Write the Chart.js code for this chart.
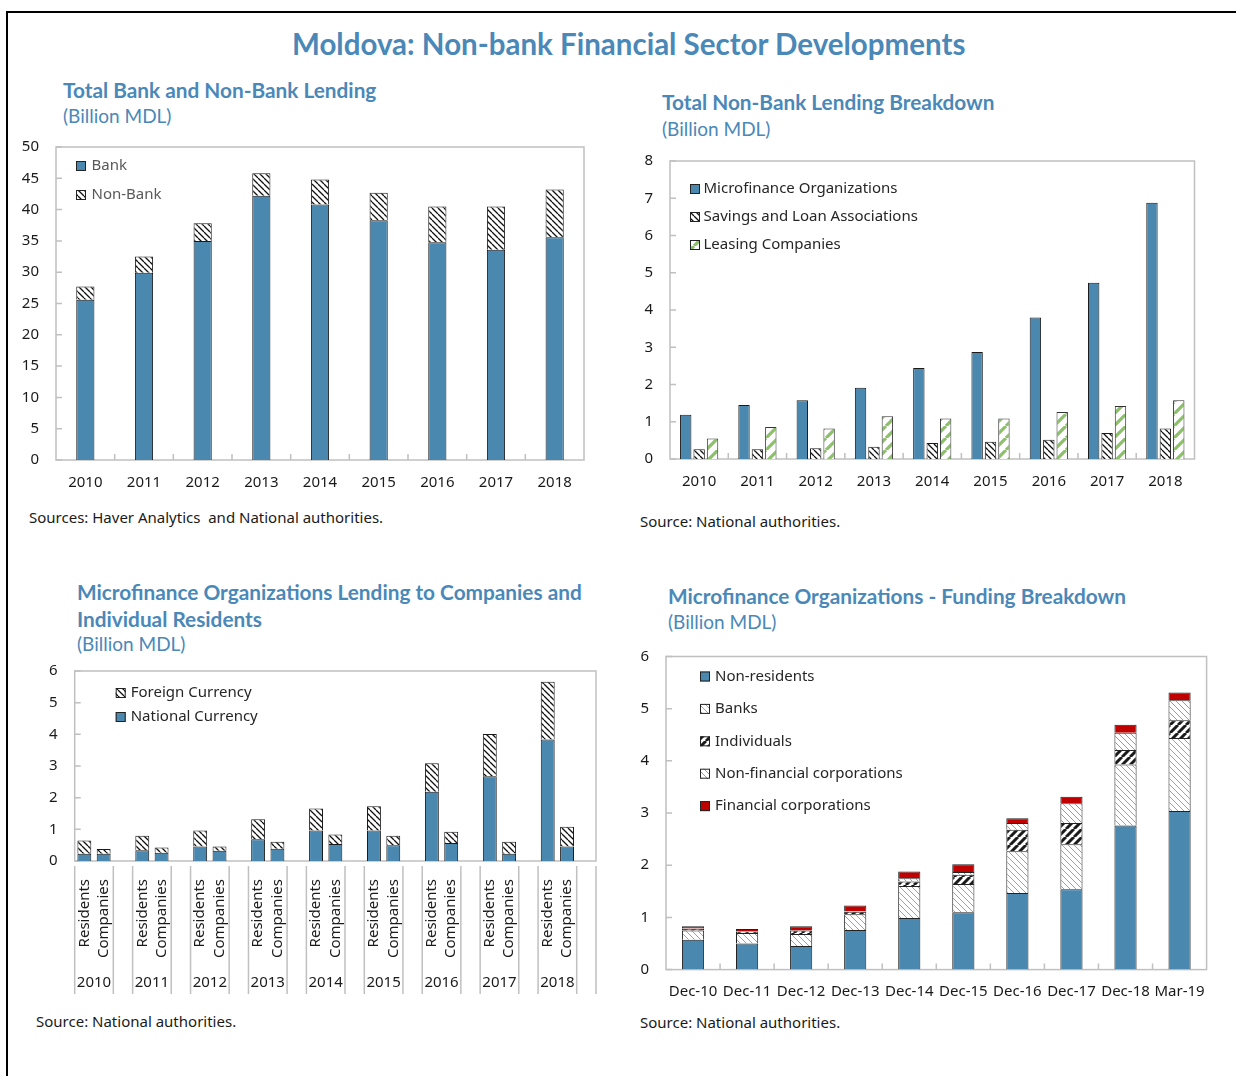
<!DOCTYPE html>
<html>
<head>
<meta charset="utf-8">
<script src="https://cdn.jsdelivr.net/npm/chart.js@4.4.0/dist/chart.umd.min.js"></script>
<style>
  html, body { margin: 0; padding: 0; background: #fff; }
  body { width: 1236px; height: 1076px; position: relative; overflow: hidden; }
  .frame { position: absolute; left: 6px; top: 11px; width: 1300px; height: 1200px; border-top: 2px solid #000; border-left: 2px solid #000; }
  .t { position: absolute; white-space: nowrap; color: #4a88b8; font-family: Lato, sans-serif; line-height: 1.2; }
  .main { font-size: 29.5px; font-weight: bold; }
  .head { font-size: 20.8px; font-weight: bold; }
  .unit { font-size: 19px; }
  .src { position: absolute; white-space: nowrap; font-family: "Noto Sans", sans-serif; font-size: 15px; line-height: 1.2; color: #1a1a1a; }
  canvas { position: absolute; }
</style>
</head>
<body>
<div class="frame"></div>

<div class="t main" style="left:292px;top:26px">Moldova: Non-bank Financial Sector Developments</div>

<div class="t head" style="left:63px;top:77.5px">Total Bank and Non-Bank Lending</div>
<div class="t unit" style="left:63px;top:105px">(Billion MDL)</div>
<div class="src" style="left:29px;top:508px">Sources: Haver Analytics&nbsp; and National authorities.</div>

<div class="t head" style="left:662px;top:90px">Total Non-Bank Lending Breakdown</div>
<div class="t unit" style="left:662px;top:118px">(Billion MDL)</div>
<div class="src" style="left:640px;top:512px">Source: National authorities.</div>

<div class="t head" style="left:77px;top:580px">Microfinance Organizations Lending to Companies and</div>
<div class="t head" style="left:77px;top:607px">Individual Residents</div>
<div class="t unit" style="left:77px;top:633px">(Billion MDL)</div>
<div class="src" style="left:36px;top:1012px">Source: National authorities.</div>

<div class="t head" style="left:668px;top:583.5px">Microfinance Organizations - Funding Breakdown</div>
<div class="t unit" style="left:668px;top:611px">(Billion MDL)</div>
<div class="src" style="left:640px;top:1013px">Source: National authorities.</div>

<canvas id="c1" width="600" height="380" style="left:0px;top:130px"></canvas>
<canvas id="c2" width="620" height="360" style="left:610px;top:150px"></canvas>
<canvas id="c3" width="600" height="350" style="left:10px;top:660px"></canvas>
<canvas id="c4" width="620" height="365" style="left:610px;top:645px"></canvas>

<script>
// ---- data ----
const years = ["2010", "2011", "2012", "2013", "2014", "2015", "2016", "2017", "2018"];

// total bank and non-bank lending
const bankLending = [25.6, 29.9, 35.0, 42.2, 40.8, 38.3, 34.8, 33.6, 35.6];
const nonBankLending = [2.1, 2.6, 2.8, 3.6, 4.0, 4.4, 5.7, 6.9, 7.6];

// non-bank lending breakdown
const microfinance = [1.19, 1.45, 1.58, 1.91, 2.44, 2.87, 3.8, 4.73, 6.88];
const savingsLoan = [0.26, 0.26, 0.29, 0.33, 0.43, 0.46, 0.52, 0.7, 0.82];
const leasing = [0.55, 0.86, 0.82, 1.15, 1.09, 1.09, 1.26, 1.42, 1.58];

// microfinance lending to residents / companies
const residentsNational = [0.23, 0.34, 0.46, 0.69, 0.96, 0.96, 2.19, 2.68, 3.84];
const residentsForeign = [0.42, 0.46, 0.5, 0.63, 0.7, 0.77, 0.9, 1.33, 1.82];
const companiesNational = [0.23, 0.26, 0.32, 0.39, 0.54, 0.5, 0.57, 0.23, 0.46];
const companiesForeign = [0.15, 0.17, 0.14, 0.22, 0.3, 0.3, 0.35, 0.38, 0.62];

// microfinance funding breakdown
const periods = ["Dec-10", "Dec-11", "Dec-12", "Dec-13", "Dec-14", "Dec-15", "Dec-16", "Dec-17", "Dec-18", "Mar-19"];
const nonResidents = [0.57, 0.5, 0.45, 0.76, 0.99, 1.1, 1.47, 1.54, 2.76, 3.04];
const banks = [0.18, 0.2, 0.23, 0.3, 0.61, 0.54, 0.8, 0.86, 1.17, 1.4];
const individuals = [0.03, 0.03, 0.07, 0.05, 0.09, 0.18, 0.41, 0.41, 0.28, 0.34];
const nonFinCorp = [0.01, 0.01, 0.0, 0.01, 0.06, 0.05, 0.13, 0.38, 0.33, 0.38];
const finCorp = [0.04, 0.04, 0.08, 0.11, 0.13, 0.15, 0.09, 0.12, 0.15, 0.15];

// residents/companies categories, with an empty slot between years
const mfoCats = [], mfoNational = [], mfoForeign = [];
years.forEach((y, i) => {
  mfoCats.push("Residents", "Companies", "");
  mfoNational.push(residentsNational[i], companiesNational[i], null);
  mfoForeign.push(residentsForeign[i], companiesForeign[i], null);
});

// ---- look ----
const BLUE = "#4a88b0";
const GREEN = "#8cc06a";
const RED = "#c00000";
Chart.defaults.font.family = "'Noto Sans', sans-serif";
Chart.defaults.font.size = 15;
Chart.defaults.color = "#1a1a1a";
Chart.defaults.animation = false;

function hatch(color, size, width, dir) {
  const c = document.createElement("canvas");
  c.width = size;
  c.height = size;
  const g = c.getContext("2d");
  g.fillStyle = "#fff";
  g.fillRect(0, 0, size, size);
  g.strokeStyle = color;
  g.lineWidth = width;
  g.beginPath();
  for (let k = -1; k <= 1; k++) {
    const x = k * size;
    if (dir === "\\") {
      g.moveTo(x, 0);
      g.lineTo(x + size, size);
    } else {
      g.moveTo(x, size);
      g.lineTo(x + size, 0);
    }
  }
  g.stroke();
  return g.createPattern(c, "repeat");
}

const blackHatch = hatch("#111", 6, 1.3, "\\");
const greenStripe = hatch(GREEN, 12, 3.2, "/");
const grayHatch = hatch("#a0a0a0", 6, 1, "\\");
const blackStripe = hatch("#1a1a1a", 8, 3, "/");
const greenHatch = hatch("#7fb35e", 6, 1, "\\");

// fixed padding so the plot area lands where it should
function pad(box, area, yW, xH) {
  return {
    left: area[0] - box[0] - yW,
    top: area[1] - box[1],
    right: box[0] + box[2] - area[2],
    bottom: box[1] + box[3] - area[3] - xH,
  };
}

function yAxis(max, step, yW, stacked) {
  return {
    min: 0,
    max: max,
    stacked: stacked,
    ticks: { stepSize: step, padding: 17 },
    grid: { display: false, drawTicks: false },
    border: { display: false },
    afterFit: (s) => { s.width = yW; s.paddingTop = 0; s.paddingBottom = 0; },
  };
}

function xAxis(xH, pd, stacked, show) {
  return {
    stacked: stacked,
    ticks: { display: show, padding: pd, autoSkip: false, maxRotation: 0, minRotation: 0 },
    grid: { display: false, drawTicks: false },
    border: { display: false },
    afterFit: (s) => { s.height = xH; s.paddingLeft = 0; s.paddingRight = 0; },
  };
}

// plot frame with inward ticks
function frame(xTicks) {
  return {
    id: "frame",
    beforeDatasetsDraw(chart) {
      const { ctx, chartArea: a } = chart;
      const x = chart.scales.x, y = chart.scales.y;
      ctx.save();
      ctx.strokeStyle = "#c0c0c0";
      ctx.lineWidth = 1.5;
      ctx.strokeRect(a.left, a.top, a.right - a.left, a.bottom - a.top);
      ctx.beginPath();
      y.ticks.forEach((t, i) => {
        const py = y.getPixelForTick(i);
        ctx.moveTo(a.left, py);
        ctx.lineTo(a.left + 6, py);
      });
      if (xTicks) {
        for (let i = 1; i < x.ticks.length; i++) {
          const px = (x.getPixelForTick(i - 1) + x.getPixelForTick(i)) / 2;
          ctx.moveTo(px, a.bottom);
          ctx.lineTo(px, a.bottom - 6);
        }
      }
      ctx.stroke();
      ctx.restore();
    },
  };
}

// legend drawn inside the plot area
function boxLegend(cfg) {
  return {
    id: "boxLegend",
    afterDraw(chart) {
      const { ctx, chartArea: a } = chart;
      ctx.save();
      ctx.font = "15px 'Noto Sans'";
      ctx.textBaseline = "middle";
      cfg.order.forEach((di, row) => {
        const ds = chart.data.datasets[di];
        const bx = a.left + cfg.x, cy = a.top + cfg.y + row * cfg.gap;
        ctx.fillStyle = ds.backgroundColor;
        ctx.fillRect(bx, cy - 5, 10, 10);
        ctx.strokeStyle = "#222";
        ctx.lineWidth = 1;
        ctx.strokeRect(bx + 0.5, cy - 4.5, 9, 9);
        ctx.fillStyle = cfg.color;
        ctx.fillText(ds.label, bx + 10 + cfg.textGap, cy);
      });
      ctx.restore();
    },
  };
}

// two-level category axis for the residents/companies chart
const groupAxis = {
  id: "groupAxis",
  afterDraw(chart) {
    const { ctx, chartArea: a } = chart;
    const x = chart.scales.x;
    const slot = x.getPixelForValue(1) - x.getPixelForValue(0);
    const top = a.bottom + 5, bottom = a.bottom + 133;
    ctx.save();
    ctx.strokeStyle = "#c0c0c0";
    ctx.lineWidth = 1.5;
    ctx.beginPath();
    years.forEach((yr, g) => {
      const x0 = x.getPixelForValue(g * 3) - slot / 2;
      const x1 = x.getPixelForValue(g * 3 + 1) + slot / 2;
      ctx.moveTo(x0, top); ctx.lineTo(x0, bottom);
      ctx.moveTo(x1, top); ctx.lineTo(x1, bottom);
    });
    ctx.moveTo(a.right, top); ctx.lineTo(a.right, bottom);
    ctx.stroke();

    ctx.fillStyle = "#1a1a1a";
    ctx.font = "15px 'Noto Sans'";
    ctx.textBaseline = "middle";
    ctx.textAlign = "right";
    chart.data.labels.forEach((lab, i) => {
      if (!lab) return;
      ctx.save();
      ctx.translate(x.getPixelForValue(i), a.bottom + 18);
      ctx.rotate(-Math.PI / 2);
      ctx.fillText(lab, 0, 0);
      ctx.restore();
    });
    ctx.textAlign = "center";
    years.forEach((yr, g) => {
      const cx = (x.getPixelForValue(g * 3) + x.getPixelForValue(g * 3 + 1)) / 2;
      ctx.fillText(yr, cx, a.bottom + 122);
    });
    ctx.restore();
  },
};

const base = { responsive: false, events: [] };
const noLegend = { legend: { display: false }, tooltip: { enabled: false } };

// ---- chart 1 ----
new Chart("c1", {
  type: "bar",
  data: {
    labels: years,
    datasets: [
      { label: "Bank", data: bankLending, backgroundColor: BLUE, borderColor: "#1a1a1a", borderWidth: 1 },
      { label: "Non-Bank", data: nonBankLending, backgroundColor: blackHatch, borderColor: "#1a1a1a", borderWidth: 1 },
    ],
  },
  options: {
    ...base,
    categoryPercentage: 1,
    barPercentage: 0.31,
    layout: { padding: pad([0, 130, 600, 380], [56, 147, 584, 460], 50, 40) },
    scales: { x: xAxis(40, 14, true, true), y: yAxis(50, 5, 50, true) },
    plugins: noLegend,
  },
  plugins: [frame(true), boxLegend({ order: [0, 1], x: 20, y: 19, gap: 29, textGap: 5.5, color: "#595959" })],
});

// ---- chart 2 ----
new Chart("c2", {
  type: "bar",
  data: {
    labels: years,
    datasets: [
      { label: "Microfinance Organizations", data: microfinance, backgroundColor: BLUE, borderColor: "#1a1a1a", borderWidth: 1 },
      { label: "Savings and Loan Associations", data: savingsLoan, backgroundColor: blackHatch, borderColor: "#1a1a1a", borderWidth: 1 },
      { label: "Leasing Companies", data: leasing, backgroundColor: greenStripe, borderColor: "#333", borderWidth: 1 },
    ],
  },
  options: {
    ...base,
    categoryPercentage: 0.69,
    barPercentage: 0.85,
    layout: { padding: pad([610, 150, 620, 360], [670, 161, 1194.5, 459], 50, 40) },
    scales: { x: xAxis(40, 14, false, true), y: yAxis(8, 1, 50, false) },
    plugins: noLegend,
  },
  plugins: [frame(true), boxLegend({ order: [0, 1, 2], x: 20, y: 28, gap: 28, textGap: 3.5, color: "#262626" })],
});

// ---- chart 3 ----
new Chart("c3", {
  type: "bar",
  data: {
    labels: mfoCats,
    datasets: [
      { label: "National Currency", data: mfoNational, backgroundColor: BLUE, borderColor: "#1a1a1a", borderWidth: 1 },
      { label: "Foreign Currency", data: mfoForeign, backgroundColor: blackHatch, borderColor: "#1a1a1a", borderWidth: 1 },
    ],
  },
  options: {
    ...base,
    categoryPercentage: 1,
    barPercentage: 0.72,
    layout: { padding: pad([10, 660, 600, 350], [74.7, 671, 596, 861], 50, 140) },
    scales: { x: xAxis(140, 0, true, false), y: yAxis(6, 1, 50, true) },
    plugins: noLegend,
  },
  plugins: [frame(false), groupAxis, boxLegend({ order: [1, 0], x: 41, y: 22, gap: 24, textGap: 5, color: "#262626" })],
});

// ---- chart 4 ----
new Chart("c4", {
  type: "bar",
  data: {
    labels: periods,
    datasets: [
      { label: "Non-residents", data: nonResidents, backgroundColor: BLUE, borderColor: "#222", borderWidth: 1 },
      { label: "Banks", data: banks, backgroundColor: grayHatch, borderColor: "#222", borderWidth: 1 },
      { label: "Individuals", data: individuals, backgroundColor: blackStripe, borderColor: "#222", borderWidth: 1 },
      { label: "Non-financial corporations", data: nonFinCorp, backgroundColor: greenHatch, borderColor: "#222", borderWidth: 1 },
      { label: "Financial corporations", data: finCorp, backgroundColor: RED, borderColor: "#222", borderWidth: 1 },
    ],
  },
  options: {
    ...base,
    categoryPercentage: 1,
    barPercentage: 0.41,
    layout: { padding: pad([610, 645, 620, 365], [666, 656.5, 1206.6, 969.6], 50, 40) },
    scales: { x: xAxis(40, 13, true, true), y: yAxis(6, 1, 50, true) },
    plugins: noLegend,
  },
  plugins: [frame(true), boxLegend({ order: [0, 1, 2, 3, 4], x: 34, y: 20, gap: 32.4, textGap: 5, color: "#262626" })],
});
</script>
</body>
</html>
